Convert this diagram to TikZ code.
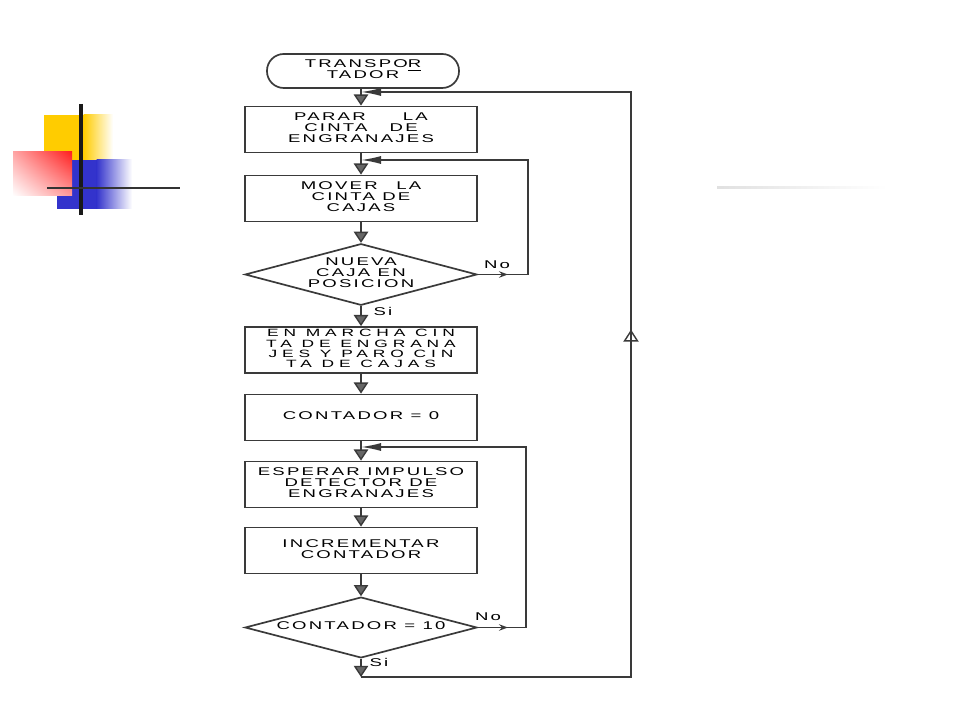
\documentclass[tikz,border=0pt]{standalone}
\usepackage{fontspec,graphicx}
\setmainfont{Liberation Sans}
\newfontfamily\diagfont[LetterSpace=12]{Liberation Sans}
\usetikzlibrary{arrows.meta}
\usetikzlibrary{decorations.markings}
\usetikzlibrary{shapes.geometric,shadings}
\definecolor{amarillo}{HTML}{FFCC00}
\definecolor{azul}{HTML}{3333CC}
\definecolor{rojo}{HTML}{FF2020}
\definecolor{trazo}{HTML}{3A3A3A}
\newcommand\textodiag{\diagfont\fontsize{8}{7.4}\selectfont}
\newcommand\ancho[2][1.65]{\scalebox{#1}[1]{\begin{tabular}{@{}c@{}}#2\end{tabular}}}

\tikzset{
  caja/.style={draw=trazo,line width=1.2pt,minimum width=5.8cm,minimum height=1.15cm,
    inner sep=0pt,align=center,text=black,font=\textodiag},
  terminal/.style={caja,minimum width=4.8cm,minimum height=0.85cm,rounded corners=0.42cm},
  decision/.style={caja,diamond,aspect=3.7,minimum height=1.52cm},
  etiqueta/.style={inner sep=0pt,text=black,font=\textodiag},
  linea/.style={draw=trazo,line width=1pt},
  flujo/.style={linea,-{Triangle[length=0.28cm,width=0.36cm,fill=black!60]}},
  vuelta/.style={linea,-{Latex[length=0.5cm,width=0.2cm]},postaction={decorate},
    decoration={markings,mark=at position 0.75cm with {\arrow{Stealth[length=0.22cm,width=0.16cm]}}}},
  retorno/.style={linea,-{Latex[length=0.5cm,width=0.2cm]},postaction={decorate},
    decoration={markings,mark=at position 15.43cm with {\arrow{Triangle[open,length=0.3cm,width=0.38cm,line width=1pt]}}}}
}

\begin{document}
\begin{tikzpicture}[x=0.025cm,y=-0.025cm]
\useasboundingbox[fill=white] (0,0) rectangle (960,720);

\fill[amarillo] (44,115) rectangle (84,160);
\shade[left color=amarillo,right color=white] (83.5,115) rectangle (113,160);
\fill[azul] (57,160) rectangle (97,209);
\shade[left color=azul,right color=white] (96.5,160) rectangle (132,209);
\shade[upper left=rojo!40!white,upper right=rojo,lower left=white,lower right=rojo!45!white] (13,152) rectangle (72,196);
\draw[line width=2.2pt,black!90] (81,104) -- (81,215);
\draw[line width=1.6pt,black!80] (47,188) -- (180,188);
\shade[left color=black!12,right color=white] (717,186.5) rectangle (887,189);

\node[terminal] (transp) at (363,71) {\ancho{TRANSPO\underline{R}\\TADOR}};
\node[caja] (parar) at (361,129.5) {\ancho{PARAR\hspace{2em}LA\\CINTA\hspace{1.2em}DE\\ENGRANAJES}};
\node[caja] (mover) at (361,198.5) {\ancho{MOVER\hspace{1em}LA\\CINTA DE\\CAJAS}};
\node[decision] (nueva) at (361,274.5) {\ancho{NUEVA\\CAJA EN\\POSICION}};
\node[caja,font=\diagfont\addfontfeature{LetterSpace=28}\fontsize{7.5}{6.8}\selectfont] (marcha) at (361,350) {\ancho{EN MARCHA CIN\\TA DE ENGRANA\\JES Y PARO CIN\\TA DE CAJAS}};
\node[caja] (cont0) at (361,417.5) {\ancho{CONTADOR = 0}};
\node[caja] (esperar) at (361,484.5) {\ancho{ESPERAR IMPULSO\\DETECTOR DE\\ENGRANAJES}};
\node[caja] (incr) at (361,550.5) {\ancho{INCREMENTAR\\CONTADOR}};
\node[decision] (cont10) at (361,627.5) {\ancho{CONTADOR = 10}};

\node[etiqueta] (no1) at (497,266) {\ancho{No}};
\node[etiqueta] (si1) at (383,313) {\ancho{Si}};
\node[etiqueta] (no2) at (488,618) {\ancho{No}};
\node[etiqueta] (si2) at (379,664) {\ancho{Si}};

\coordinate (j1) at (361,92);
\coordinate (j2) at (361,160);
\coordinate (j3) at (361,447);
\coordinate (fin) at (361,677);
\coordinate (r1) at (528,274.5);
\coordinate (r1t) at (528,160);
\coordinate (r2) at (526,627.5);
\coordinate (r2t) at (526,447);
\coordinate (esq) at (631,677);
\coordinate (esqt) at (631,92);

\draw[flujo] (transp.south -| parar) -- (parar);
\draw[flujo] (parar) -- (mover);
\draw[flujo] (mover) -- (nueva);
\draw[flujo] (nueva) -- (marcha);
\draw[flujo] (marcha) -- (cont0);
\draw[flujo] (cont0) -- (esperar);
\draw[flujo] (esperar) -- (incr);
\draw[flujo] (incr) -- (cont10);
\draw[flujo] (cont10) -- (fin);

\draw[vuelta] (nueva.east) -- (r1) -- (r1t) -- (j2);
\draw[vuelta] (cont10.east) -- (r2) -- (r2t) -- (j3);
\draw[retorno] (fin) -- (esq) -- (esqt) -- (j1);
\end{tikzpicture}
\end{document}
